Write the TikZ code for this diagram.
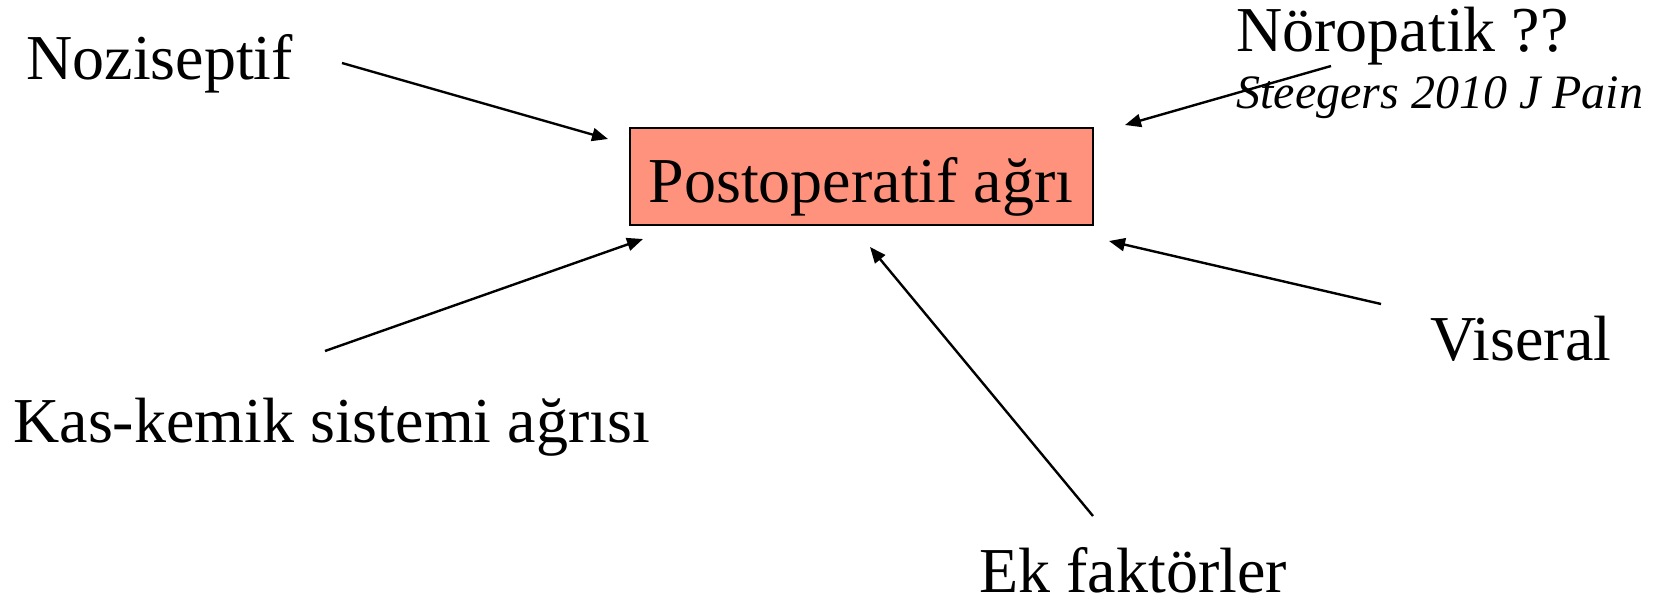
\documentclass[tikz,border=0pt]{standalone}
\usepackage{fontspec}
\setmainfont{Liberation Serif}
\usetikzlibrary{arrows.meta}
\definecolor{boxfill}{RGB}{255,146,124}
\tikzset{
  lbl/.style={anchor=base west, inner sep=0pt, font=\fontsize{32}{38}\selectfont},
  cite/.style={anchor=base west, inner sep=0pt, font=\fontsize{24}{28}\selectfont\itshape},
  conn/.style={line width=1.2pt, -{Triangle[length=8pt,width=6.5pt]}},
  mainbox/.style={draw, line width=1.3pt, fill=boxfill, minimum width=231.5pt, minimum height=48.5pt, inner sep=0pt}
}
\begin{document}
\begin{tikzpicture}[x=0.5pt,y=-0.5pt]
\useasboundingbox (0,0) rectangle (1659,600);
\node[mainbox] (box) at (861.5,176.5) {};
\node[anchor=base, inner sep=0pt, font=\fontsize{32}{38}\selectfont] (boxtext) at (861,202) {Postoperatif ağrı};
\node[lbl] (noz) at (26,79) {Noziseptif};
\node[lbl] (nor) at (1236,51) {Nöropatik ??};
\node[cite] (cit) at (1236,108) {Steegers 2010 J Pain};
\node[lbl] (kas) at (13,442) {Kas-kemik sistemi ağrısı};
\node[lbl] (vis) at (1430,360) {Viseral};
\node[lbl] (ek) at (979,592) {Ek faktörler};
\coordinate (nozS) at (342,63);
\coordinate (nozE) at (608,139);
\coordinate (kasS) at (325,351);
\coordinate (kasE) at (643,239);
\coordinate (ekS) at (1093,516);
\coordinate (ekE) at (870,247);
\coordinate (visS) at (1381,304);
\coordinate (visE) at (1109,241);
\coordinate (norS) at (1331,66);
\coordinate (norE) at (1125,125);
\draw[conn] (nozS) -- (nozE);
\draw[conn] (kasS) -- (kasE);
\draw[conn] (ekS) -- (ekE);
\draw[conn] (visS) -- (visE);
\draw[conn] (norS) -- (norE);
\end{tikzpicture}
\end{document}
